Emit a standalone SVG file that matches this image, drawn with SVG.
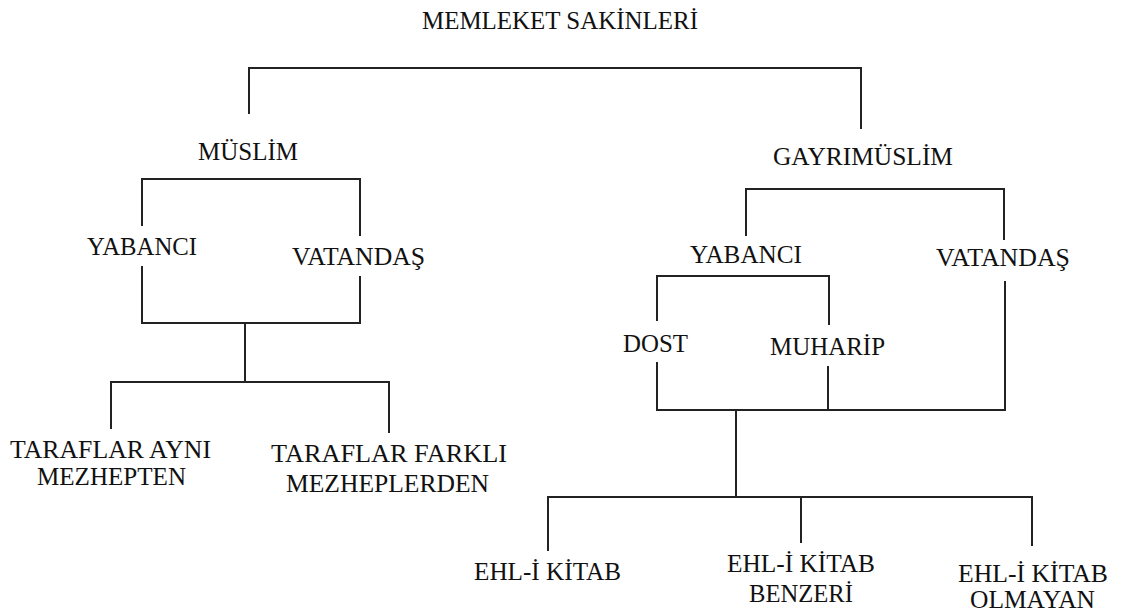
<svg xmlns="http://www.w3.org/2000/svg" width="1122" height="615" viewBox="0 0 1122 615">
<style>
  .lbl { font-family: "Liberation Serif", "Times New Roman", serif; font-size: 25px; fill: #111; }
  .title { font-size: 26px; }
  .conn { fill: none; stroke: #222; stroke-width: 2; stroke-linecap: square; }
</style>
<rect width="1122" height="615" fill="#ffffff"/>
<g id="connectors">
  <path class="conn" d="M249,113 V68 H861 V128"/>
  <path class="conn" d="M142,225 V179 H360 V235"/>
  <path class="conn" d="M142,267 V323 H360 V277"/>
  <path class="conn" d="M245,323 V382"/>
  <path class="conn" d="M111,428 V382 H389 V432"/>
  <path class="conn" d="M746,235 V189 H1004 V239"/>
  <path class="conn" d="M657,320 V276 H829 V324"/>
  <path class="conn" d="M657,363 V410 H1005 V282"/>
  <path class="conn" d="M828,367 V410"/>
  <path class="conn" d="M736,410 V497"/>
  <path class="conn" d="M548,550 V497 H1032 V545"/>
  <path class="conn" d="M801,497 V542"/>
</g>
<g id="node-memleket"><text class="lbl title" x="422" y="29" textLength="276" lengthAdjust="spacingAndGlyphs">MEMLEKET SAKİNLERİ</text></g>
<g id="node-muslim"><text class="lbl" x="198" y="160" textLength="100" lengthAdjust="spacingAndGlyphs">MÜSLİM</text></g>
<g id="node-gayrimuslim"><text class="lbl" x="773" y="165" textLength="180" lengthAdjust="spacingAndGlyphs">GAYRIMÜSLİM</text></g>
<g id="node-m-yabanci"><text class="lbl" x="87" y="255" textLength="110" lengthAdjust="spacingAndGlyphs">YABANCI</text></g>
<g id="node-m-vatandas"><text class="lbl" x="292" y="265" textLength="133" lengthAdjust="spacingAndGlyphs">VATANDAŞ</text></g>
<g id="node-g-yabanci"><text class="lbl" x="690" y="263" textLength="112" lengthAdjust="spacingAndGlyphs">YABANCI</text></g>
<g id="node-g-vatandas"><text class="lbl" x="936" y="266" textLength="134" lengthAdjust="spacingAndGlyphs">VATANDAŞ</text></g>
<g id="node-dost"><text class="lbl" x="623" y="352" textLength="65" lengthAdjust="spacingAndGlyphs">DOST</text></g>
<g id="node-muharip"><text class="lbl" x="770" y="355" textLength="115" lengthAdjust="spacingAndGlyphs">MUHARİP</text></g>
<g id="node-ayni">
  <text class="lbl" x="10" y="458" textLength="201" lengthAdjust="spacingAndGlyphs">TARAFLAR AYNI</text>
  <text class="lbl" x="37" y="485" textLength="149" lengthAdjust="spacingAndGlyphs">MEZHEPTEN</text>
</g>
<g id="node-farkli">
  <text class="lbl" x="271" y="462" textLength="236" lengthAdjust="spacingAndGlyphs">TARAFLAR FARKLI</text>
  <text class="lbl" x="286" y="492" textLength="203" lengthAdjust="spacingAndGlyphs">MEZHEPLERDEN</text>
</g>
<g id="node-ehlikitab"><text class="lbl" x="474" y="580" textLength="147" lengthAdjust="spacingAndGlyphs">EHL-İ KİTAB</text></g>
<g id="node-benzeri">
  <text class="lbl" x="727" y="572" textLength="148" lengthAdjust="spacingAndGlyphs">EHL-İ KİTAB</text>
  <text class="lbl" x="749" y="602" textLength="104" lengthAdjust="spacingAndGlyphs">BENZERİ</text>
</g>
<g id="node-olmayan">
  <text class="lbl" x="958" y="582" textLength="150" lengthAdjust="spacingAndGlyphs">EHL-İ KİTAB</text>
  <text class="lbl" x="970" y="608" textLength="125" lengthAdjust="spacingAndGlyphs">OLMAYAN</text>
</g>
</svg>
